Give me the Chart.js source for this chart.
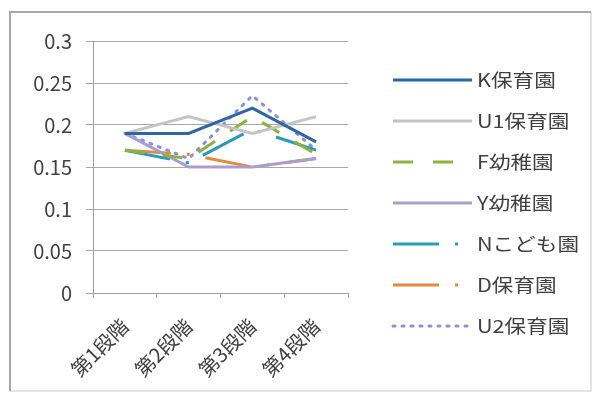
<!DOCTYPE html>
<html>
<head>
<meta charset="utf-8">
<script src="https://cdn.jsdelivr.net/npm/chart.js@4/dist/chart.umd.min.js"></script>
<style>
  body { margin: 0; background: #fff; }
  #wrap { width: 598px; height: 394px; position: relative; }
</style>
</head>
<body>
<div id="wrap"><canvas id="chart" width="598" height="394"></canvas></div>
<script>
// 各段階のデータ
const stages = ["第1段階", "第2段階", "第3段階", "第4段階"];
const yTicks = [0, 0.05, 0.1, 0.15, 0.2, 0.25, 0.3];

const kHoiku = [0.19, 0.19, 0.22, 0.18];
const u1Hoiku = [0.19, 0.21, 0.19, 0.21];
const fYouchi = [0.17, 0.16, 0.21, 0.165];
const yYouchi = [0.19, 0.15, 0.15, 0.16];
const nKodomo = [0.17, 0.155, 0.195, 0.17];
const dHoiku = [0.17, 0.165, 0.15, 0.16];
const u2Hoiku = [0.19, 0.16, 0.235, 0.17];

const font = "'Noto Sans CJK JP', 'Noto Sans', sans-serif";

const series = [
  { label: "K保育園", data: kHoiku, color: "#2c66a4", dash: [] },
  { label: "U1保育園", data: u1Hoiku, color: "#c4c4c4", dash: [] },
  { label: "F幼稚園", data: fYouchi, color: "#8fb23e", dash: [20, 18] },
  { label: "Y幼稚園", data: yYouchi, color: "#a99dd0", dash: [] },
  { label: "Nこども園", data: nKodomo, color: "#2b9bbd", dash: [46, 16, 3, 16] },
  { label: "D保育園", data: dHoiku, color: "#e48a3c", dash: [46, 16, 3, 16] },
  { label: "U2保育園", data: u2Hoiku, color: "#8b90d8", dash: [2, 7] },
];

// 右側の凡例と外枠を描く
const legendPlugin = {
  id: "sideLegend",
  afterDraw(chart) {
    const ctx = chart.ctx;
    ctx.save();
    ctx.lineWidth = 2;
    ctx.strokeStyle = "#e4e4e4";
    ctx.strokeRect(10, 12, 581, 379);
    ctx.strokeStyle = "#a8a8a8";
    ctx.beginPath();
    ctx.moveTo(10, 391);
    ctx.lineTo(10, 12);
    ctx.lineTo(591, 12);
    ctx.stroke();

    series.forEach((s, i) => {
      const y = 80 + i * 41;
      ctx.beginPath();
      ctx.strokeStyle = s.color;
      ctx.lineWidth = 3;
      ctx.lineCap = s.dash.length && s.dash[0] < 4 ? "round" : "butt";
      ctx.setLineDash(s.dash.length ? (s.label === "F幼稚園" ? [20, 20] : s.dash) : []);
      ctx.moveTo(393, y);
      ctx.lineTo(472, y);
      ctx.stroke();
      ctx.setLineDash([]);

      // 文字は少し横長に
      ctx.save();
      ctx.translate(477, y);
      ctx.scale(1.2, 1);
      ctx.fillStyle = "#404040";
      ctx.font = "18px " + font;
      ctx.textBaseline = "middle";
      ctx.fillText(s.label, 0, 0);
      ctx.restore();
    });
    ctx.restore();
  },
};

new Chart(document.querySelector("#chart"), {
  type: "line",
  data: {
    labels: stages,
    datasets: series.map((s) => ({
      label: s.label,
      data: s.data,
      borderColor: s.color,
      borderWidth: 3,
      borderDash: s.dash,
      borderCapStyle: s.dash.length && s.dash[0] < 4 ? "round" : "butt",
      pointRadius: 0,
      tension: 0,
      fill: false,
    })),
  },
  options: {
    responsive: false,
    animation: false,
    layout: { padding: { left: 12, top: 41, right: 250, bottom: 0 } },
    plugins: { legend: { display: false }, tooltip: { enabled: false } },
    scales: {
      x: {
        offset: true,
        afterFit: (s) => { s.height = 101; },
        grid: {
          offset: true,
          drawOnChartArea: false,
          drawTicks: true,
          tickLength: 5,
          color: "#a0a0a0",
        },
        border: { color: "#a0a0a0" },
        ticks: {
          minRotation: 45,
          maxRotation: 45,
          padding: 16,
          color: "#404040",
          font: { family: font, size: 20 },
        },
      },
      y: {
        min: 0,
        max: 0.3,
        afterFit: (s) => { s.width = 81; },
        afterBuildTicks: (s) => { s.ticks = yTicks.map((v) => ({ value: v })); },
        grid: { color: "#a8a8a8", tickLength: 7 },
        border: { color: "#a0a0a0" },
        ticks: {
          padding: 14,
          color: "#404040",
          font: { family: font, size: 20 },
          callback: (v) => String(v),
        },
      },
    },
  },
  plugins: [legendPlugin],
});
</script>
</body>
</html>
